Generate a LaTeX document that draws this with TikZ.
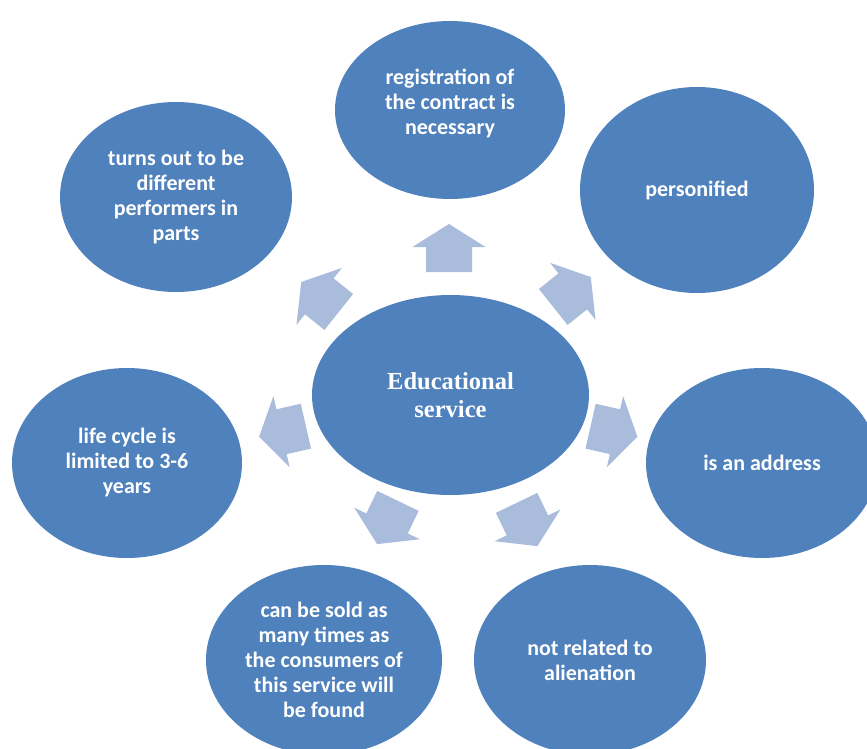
\documentclass[tikz,border=0pt]{standalone}
\usepackage{fontspec}
\setmainfont{Carlito}
\newfontfamily\titlefont{Liberation Serif}
\usetikzlibrary{shapes.geometric}
\definecolor{bubblefill}{HTML}{4F81BD}
\definecolor{spokefill}{RGB}{169,188,219}
\begin{document}
\begin{tikzpicture}[x=1pt,y=-1pt,
  bubbletext/.style={inner sep=0pt, align=center, text=white,
    font=\bfseries\fontsize{22}{25}\selectfont},
  bubble/.style={bubbletext, ellipse, fill=bubblefill, minimum width=232pt, minimum height=190pt},
  core/.style={bubble, minimum width=277pt, minimum height=200pt,
    font=\titlefont\bfseries\fontsize{24.5}{28}\selectfont},
  spoke/.pic={\fill[spokefill] (24,0) -- (1,36.5) -- (1,23) -- (-24,23)
    -- (-24,-23) -- (1,-23) -- (1,-36.5) -- cycle;}]
\useasboundingbox (0,0) rectangle (867,749);
\clip (0,0) rectangle (867,749);

% outward block arrows around the centre
\pic[rotate=90]      at (449,248)   {spoke};
\pic[rotate=38.57]   at (572,292)   {spoke};
\pic[rotate=-12.86]  at (614,431.5) {spoke};
\pic[rotate=-64.29]  at (527,524.5) {spoke};
\pic[rotate=-115.71] at (387.5,522.5) {spoke};
\pic[rotate=-167.14] at (282.5,431.5) {spoke};
\pic[rotate=141.43]  at (320,297)   {spoke};

% central bubble
\node[core] (centre) at (450.5,395) {Educational\\service};

% surrounding bubbles
\node[bubble, minimum width=230pt, minimum height=178pt] (reg) at (450,110) {};
\node[bubbletext] (regtext) at (450,103)
  {registration of\\the contract is\\necessary};
\node[bubble, minimum width=234pt, minimum height=206pt] (pers) at (697,190)
  {personified};
\node[bubble] (addr) at (762,463) {is an address};
\node[bubble] (alien) at (590,660) {not related to\\alienation};
\node[bubble, minimum width=236pt] (sold) at (324,660)
  {can be sold as\\many times as\\the consumers of\\this service will\\be found};
\node[bubble, minimum width=230pt] (life) at (127,463)
  {life cycle is\\limited to 3-6\\years};
\node[bubble] (perf) at (176,197)
  {turns out to be\\different\\performers in\\parts};
\end{tikzpicture}
\end{document}
